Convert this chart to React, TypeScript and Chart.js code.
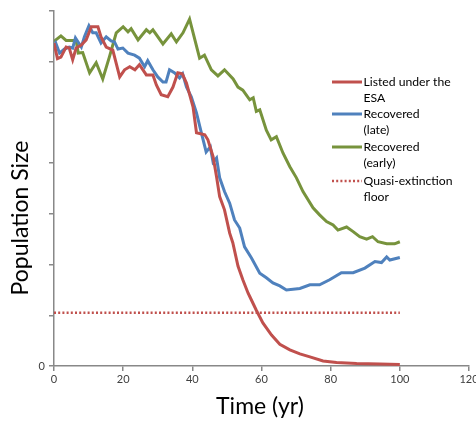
import React, { useEffect, useRef } from "react";
import { Chart, registerables } from "chart.js";

Chart.register(...registerables);

const xTicks = [0, 20, 40, 60, 80, 100, 120];

const listedYears = [0, 1, 2, 3.5, 4.4, 5.4, 6.4, 7.9, 9.3, 10.8, 12.7, 13.6, 15.1, 17, 19, 20.4, 21.9, 23.4, 24.7, 26.7, 28.6, 29.6, 31, 32.9, 34.4, 35.8, 37.1, 38.3, 40.2, 41.2, 43.6, 44.5, 46, 47, 47.9, 49.3, 50.8, 51.7, 53.2, 54.6, 56.1, 56.6, 58.5, 60.4, 62.9, 65.3, 68.2, 71.1, 74, 77.8, 81.7, 87.5, 94.2, 100];
const listedValues = [6.37, 6.06, 6.09, 6.29, 6.27, 6.04, 6.27, 6.33, 6.43, 6.69, 6.69, 6.49, 6.29, 6.23, 5.7, 5.84, 5.9, 5.84, 5.94, 5.74, 5.74, 5.54, 5.35, 5.31, 5.5, 5.78, 5.76, 5.58, 5.11, 4.6, 4.56, 4.46, 4.13, 3.73, 3.34, 3.08, 2.62, 2.43, 1.97, 1.7, 1.44, 1.37, 1.1, 0.85, 0.61, 0.43, 0.32, 0.24, 0.18, 0.1, 0.07, 0.05, 0.04, 0.03];

const lateYears = [0, 0.5, 1.6, 3, 4.4, 5.4, 6.2, 7.9, 8.8, 10.1, 11.2, 12.2, 13.6, 15.1, 16.5, 17.5, 18.5, 19.9, 21.4, 23.3, 24.7, 26.2, 27.1, 28.6, 30, 31.5, 32.4, 33.4, 34.9, 36.3, 37.2, 38.3, 39.7, 41.2, 42.6, 44, 45.2, 46, 47, 47.9, 49.3, 50.8, 52.2, 53.7, 55.1, 57.1, 59.5, 61.4, 63.3, 65.3, 67.2, 71.1, 74, 76.8, 79.7, 83.1, 86.5, 89.9, 92.8, 94.7, 96.2, 97.1, 100];
const lateValues = [6.3, 6.37, 6.17, 6.25, 6.29, 6.27, 6.47, 6.29, 6.49, 6.71, 6.57, 6.57, 6.37, 6.49, 6.41, 6.39, 6.25, 6.27, 6.17, 6.13, 6.07, 5.9, 6.02, 5.84, 5.7, 5.6, 5.6, 5.84, 5.78, 5.68, 5.76, 5.5, 5.31, 4.99, 4.6, 4.22, 4.32, 4.02, 4.1, 3.71, 3.44, 3.21, 2.88, 2.72, 2.35, 2.13, 1.83, 1.74, 1.64, 1.58, 1.5, 1.53, 1.6, 1.6, 1.7, 1.84, 1.84, 1.93, 2.06, 2.04, 2.15, 2.09, 2.14];

const earlyYears = [0, 2, 3.5, 6.4, 7, 8.3, 10.3, 12.2, 14.1, 16, 18, 20, 21.4, 22.3, 24.3, 26.7, 27.7, 28.6, 31.5, 33.9, 35.4, 37.3, 39.2, 42.1, 43.5, 45.5, 47.4, 49.3, 51.8, 53.2, 54.6, 56.6, 57.6, 58.5, 59.5, 61.4, 62.8, 64.3, 66.2, 68.2, 70.1, 72, 74.9, 76.8, 78.8, 80.7, 82.1, 84.6, 86.5, 88.4, 90.4, 92.1, 93.7, 96.2, 98.5, 100];
const earlyValues = [6.4, 6.51, 6.42, 6.42, 6.17, 6.18, 5.78, 5.98, 5.66, 6.09, 6.57, 6.69, 6.59, 6.65, 6.43, 6.63, 6.57, 6.63, 6.35, 6.55, 6.39, 6.57, 6.84, 6.07, 6.13, 5.84, 5.72, 5.84, 5.66, 5.5, 5.44, 5.25, 5.29, 5.02, 5.05, 4.65, 4.46, 4.52, 4.2, 3.93, 3.71, 3.44, 3.12, 2.98, 2.85, 2.78, 2.68, 2.74, 2.65, 2.55, 2.5, 2.55, 2.45, 2.41, 2.41, 2.45];

const floorYears = [0, 100];
const floorValues = [1.05, 1.05];

const legendLabels = [
  ["Listed under the", "ESA"],
  ["Recovered", "(late)"],
  ["Recovered", "(early)"],
  ["Quasi-extinction", "floor"],
];

const toPoints = (xs: number[], ys: number[]) => xs.map((x, i) => ({ x, y: ys[i] }));

const overlayPlugin = {
  id: "overlay",
  afterDraw(chart: any) {
    const ctx = chart.ctx;
    ctx.save();
    ctx.fillStyle = "#000";
    ctx.font = "23px Lato";
    ctx.textAlign = "center";
    ctx.textBaseline = "middle";
    ctx.save();
    ctx.translate(20.5, 218);
    ctx.rotate(-Math.PI / 2);
    ctx.fillText("Population Size", 0, 0);
    ctx.restore();
    ctx.fillText("Time (yr)", 260, 407);

    // legend
    const rows = [82, 114, 147, 181];
    ctx.font = "12.2px Lato";
    ctx.textAlign = "left";
    chart.data.datasets.forEach((ds: any, i: number) => {
      const y = rows[i];
      ctx.save();
      ctx.strokeStyle = ds.borderColor;
      ctx.lineWidth = ds.borderWidth;
      ctx.setLineDash(ds.borderDash || []);
      ctx.beginPath();
      ctx.moveTo(332, y);
      ctx.lineTo(362, y);
      ctx.stroke();
      ctx.restore();
      const lines = legendLabels[i];
      lines.forEach((t, j) => {
        ctx.fillText(t, 363.5, y + j * 16);
      });
    });
    ctx.restore();
  },
};

export default function App() {
  const ref = useRef<HTMLCanvasElement>(null);
  useEffect(() => {
    if (!ref.current) return;
    const chart = new Chart(ref.current, {
      type: "line",
      data: {
        datasets: [
          {
            label: "Listed under the ESA",
            data: toPoints(listedYears, listedValues),
            borderColor: "#C0504D",
            borderWidth: 3,
            pointRadius: 0,
            tension: 0,
          },
          {
            label: "Recovered (late)",
            data: toPoints(lateYears, lateValues),
            borderColor: "#4F81BD",
            borderWidth: 3,
            pointRadius: 0,
            tension: 0,
          },
          {
            label: "Recovered (early)",
            data: toPoints(earlyYears, earlyValues),
            borderColor: "#77933C",
            borderWidth: 3,
            pointRadius: 0,
            tension: 0,
          },
          {
            label: "Quasi-extinction floor",
            data: toPoints(floorYears, floorValues),
            borderColor: "#C0504D",
            borderWidth: 2.5,
            borderDash: [2, 2.2],
            pointRadius: 0,
          },
        ],
      },
      options: {
        responsive: false,
        animation: false,
        layout: { padding: { top: 11, right: 7, left: 0, bottom: 0 } },
        plugins: { legend: { display: false }, tooltip: { enabled: false } },
        scales: {
          x: {
            type: "linear",
            min: 0,
            max: 120,
            afterBuildTicks: (s: any) => {
              s.ticks = xTicks.map((v) => ({ value: v }));
            },
            ticks: {
              font: { family: "Lato", size: 11 },
              color: "#404040",
              padding: 2,
              maxRotation: 0,
              autoSkip: false,
            },
            grid: { drawOnChartArea: false, drawTicks: true, tickLength: 5, color: "#888", lineWidth: 1.5 },
            border: { color: "#888", width: 1.5 },
            afterFit: (s: any) => {
              s.height = 55;
              s.paddingLeft = 0;
              s.paddingRight = 0;
            },
          },
          y: {
            min: 0,
            max: 7,
            ticks: {
              stepSize: 1,
              font: { family: "Lato", size: 11 },
              color: "#404040",
              padding: 4,
              callback: (v: any) => (v === 0 ? "0" : ""),
            },
            grid: { drawOnChartArea: false, drawTicks: true, tickLength: 5, color: "#888", lineWidth: 1.5 },
            border: { color: "#888", width: 1.5 },
            afterFit: (s: any) => {
              s.width = 54;
              s.paddingTop = 0;
              s.paddingBottom = 0;
            },
          },
        },
      },
      plugins: [overlayPlugin],
    });
    return () => chart.destroy();
  }, []);
  return (
    <div style={{ position: "absolute", left: 0, top: 0, width: 476, height: 421, background: "#fff" }}>
      <canvas ref={ref} width={476} height={421} />
    </div>
  );
}
